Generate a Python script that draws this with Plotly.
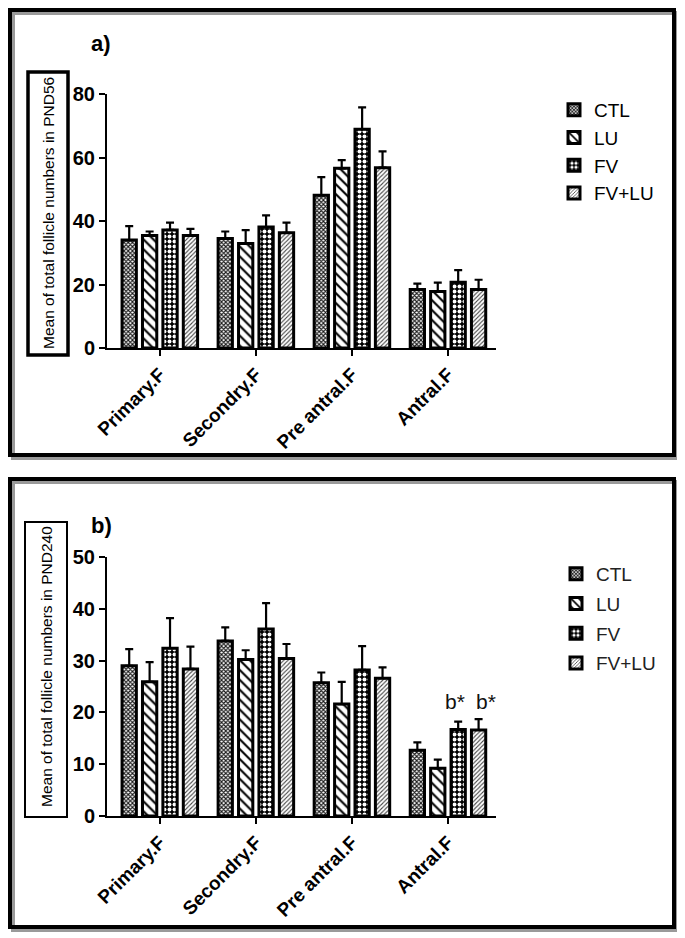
import plotly.graph_objects as go

categories = ["Primary.F", "Secondry.F", "Pre antral.F", "Antral.F"]
groups = ["CTL", "LU", "FV", "FV+LU"]

# Panel a) PND56
a_means = {
    "CTL":   [34.0, 34.5, 48.1, 18.4],
    "LU":    [35.4, 32.9, 56.6, 17.8],
    "FV":    [37.2, 38.1, 68.9, 20.7],
    "FV+LU": [35.4, 36.3, 56.8, 18.4],
}
a_errs = {
    "CTL":   [4.4, 2.2, 5.7, 1.9],
    "LU":    [1.3, 4.2, 2.6, 2.8],
    "FV":    [2.3, 3.7, 6.9, 3.8],
    "FV+LU": [2.1, 3.2, 5.1, 3.1],
}
# Panel b) PND240
b_means = {
    "CTL":   [29.0, 33.8, 25.7, 12.7],
    "LU":    [25.9, 30.2, 21.6, 9.2],
    "FV":    [32.4, 36.1, 28.2, 16.7],
    "FV+LU": [28.4, 30.4, 26.6, 16.6],
}
b_errs = {
    "CTL":   [3.2, 2.6, 2.0, 1.5],
    "LU":    [3.8, 1.8, 4.3, 1.7],
    "FV":    [5.8, 5.0, 4.6, 1.5],
    "FV+LU": [4.3, 2.8, 2.1, 2.1],
}
a_yticks = [0, 20, 40, 60, 80]
b_yticks = [0, 10, 20, 30, 40, 50]
sig_groups = ["FV", "FV+LU"]
sig_label = "b*"

# page body has an 8px margin: figure is sized to fit the 685x938 window
OFF = 8
W, H = 685 - OFF, 938 - OFF
FONT = "Liberation Sans, Arial, sans-serif"
NARROW = "Liberation Sans Narrow, Arial Narrow, Liberation Sans, Arial, sans-serif"
BARGAP = 0.15

patterns = {
    "CTL":   dict(shape="x", size=3, solidity=0.6, fgcolor="#1a1a1a", bgcolor="white", fillmode="replace"),
    "LU":    dict(shape="\\", size=7, solidity=0.3, fgcolor="black", bgcolor="white", fillmode="replace"),
    "FV":    dict(shape=".", size=5, solidity=0.5, fgcolor="white", bgcolor="black", fillmode="replace"),
    "FV+LU": dict(shape="/", size=3, solidity=0.35, fgcolor="#444", bgcolor="white", fillmode="replace"),
}

fig = go.Figure()

def add_panel(means, errs, xa, ya, legend, prefix):
    for g in groups:
        fig.add_trace(go.Bar(
            x=categories, y=means[g], name=g,
            xaxis=xa, yaxis=ya, legend=legend, legendgroup=prefix + g,
            marker=dict(color="white", line=dict(color="black", width=3), pattern=patterns[g]),
            error_y=dict(type="data", array=errs[g], arrayminus=[0] * len(categories),
                         symmetric=False, color="black", thickness=2.2, width=4),
        ))

add_panel(a_means, a_errs, "x", "y", "legend", "a_")
add_panel(b_means, b_errs, "x2", "y2", "legend2", "b_")

def px_x(p):
    return (p - OFF) / W

def px_y(p):
    return 1 - (p - OFF) / H

xcommon = dict(type="category", range=[-0.55, 3.5], showline=True, linecolor="black", linewidth=2,
               ticks="outside", ticklen=6, tickwidth=2, tickcolor="black", tickangle=-45,
               tickfont=dict(family=FONT, size=19, color="black", weight="bold"),
               showgrid=False, zeroline=False, fixedrange=True, automargin=False)
ycommon = dict(showline=True, linecolor="black", linewidth=2, ticks="outside", ticklen=6,
               tickwidth=2, tickcolor="black", showgrid=False, zeroline=False, automargin=False,
               tickfont=dict(family=NARROW, size=20, color="black", weight="bold"), fixedrange=True)

fig.update_layout(
    template="none",
    width=W, height=H,
    margin=dict(l=0, r=0, t=0, b=0, pad=0, autoexpand=False),
    paper_bgcolor="white", plot_bgcolor="white",
    barmode="group", bargap=BARGAP, bargroupgap=0.3,
    showlegend=True,
    xaxis=dict(domain=[px_x(107), px_x(496)], anchor="y", **xcommon),
    yaxis=dict(domain=[px_y(348), px_y(94)], anchor="x", range=[0, 80], tickvals=a_yticks, **ycommon),
    xaxis2=dict(domain=[px_x(107), px_x(496)], anchor="y2", **xcommon),
    yaxis2=dict(domain=[px_y(816), px_y(557)], anchor="x2", range=[0, 50], tickvals=b_yticks, **ycommon),
    legend=dict(x=px_x(554), y=px_y(91), xanchor="left", yanchor="top",
                font=dict(family=FONT, size=19, color="black"), tracegroupgap=0,
                bgcolor="rgba(0,0,0,0)", itemclick=False),
    legend2=dict(x=px_x(556), y=px_y(555), xanchor="left", yanchor="top",
                 font=dict(family=FONT, size=19, color="#222"), tracegroupgap=2,
                 bgcolor="rgba(0,0,0,0)", itemclick=False),
)

shapes = []
# panel frames with shadow
for (x0, y0, x1, y1) in [(10, 10, 674, 455), (10, 479, 674, 927)]:
    shapes.append(dict(type="rect", xref="paper", yref="paper",
                       x0=px_x(x0 + 3), x1=px_x(x1 + 3), y0=px_y(y1 + 3), y1=px_y(y0 + 3),
                       line=dict(color="#9a9a9a", width=4), layer="below"))
    shapes.append(dict(type="rect", xref="paper", yref="paper",
                       x0=px_x(x0), x1=px_x(x1), y0=px_y(y1), y1=px_y(y0),
                       line=dict(color="black", width=4), layer="below"))
# y-title boxes
shapes.append(dict(type="rect", xref="paper", yref="paper",
                   x0=px_x(28), x1=px_x(68), y0=px_y(355), y1=px_y(72),
                   line=dict(color="black", width=3.5)))
shapes.append(dict(type="rect", xref="paper", yref="paper",
                   x0=px_x(25), x1=px_x(67), y0=px_y(817), y1=px_y(522),
                   line=dict(color="black", width=2)))
fig.update_layout(shapes=shapes)

def center_text(text, x, y, size, weight="normal", angle=0):
    return dict(text=text, x=px_x(x), y=px_y(y), xref="paper", yref="paper", showarrow=False,
                xanchor="center", yanchor="middle", textangle=angle,
                font=dict(family=FONT, size=size, color="black", weight=weight))

ann = [
    center_text("a)", 101, 44, 22, "bold"),
    center_text("b)", 101, 525, 22, "bold"),
    center_text("Mean of total follicle numbers in PND56", 48, 213, 15.5, angle=-90),
    center_text("Mean of total follicle numbers in PND240", 46, 667, 15.5, angle=-90),
]
# significance labels above the antral FV and FV+LU bars
slot = (1 - BARGAP) / len(groups)
last = len(categories) - 1
ytop = max(b_means[g][last] + b_errs[g][last] for g in sig_groups)
for k, g in enumerate(sig_groups):
    gi = groups.index(g)
    xpos = last + (gi - (len(groups) - 1) / 2) * slot
    ann.append(dict(text=sig_label, x=xpos, y=ytop,
                    xref="x2", yref="y2", showarrow=False, xanchor="center", yanchor="bottom",
                    yshift=4, xshift=-3 + 10 * k,
                    font=dict(family=FONT, size=21, color="#111")))
fig.update_layout(annotations=ann)

fig.write_html("out.html")
